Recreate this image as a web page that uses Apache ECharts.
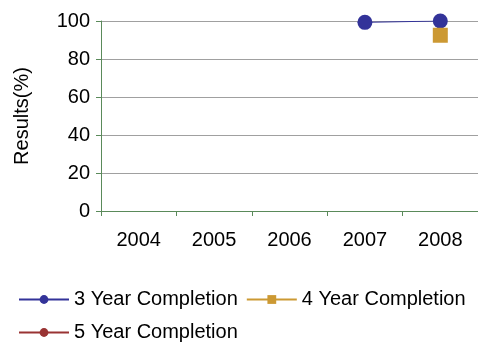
<!DOCTYPE html>
<html>
<head>
<meta charset="utf-8">
<script src="https://cdn.jsdelivr.net/npm/echarts@6/dist/echarts.min.js"></script>
<style>
  html, body { margin: 0; padding: 0; background: #fff; }
  #chart { width: 478px; height: 342px; }
</style>
</head>
<body>
<div id="chart"></div>
<script>
// Completion results by cohort length, percent
const years = ['2004', '2005', '2006', '2007', '2008'];
const threeYear = [null, null, null, 99.3, 100];
const fourYear = [null, null, null, null, 92.5];
const fiveYear = [null, null, null, null, null];
const yTicks = [0, 20, 40, 60, 80, 100];

const FONT = 'Liberation Sans, Arial, sans-serif';
const AXIS_GREEN = '#5a8a5a';

const chart = echarts.init(document.getElementById('chart'), null, { renderer: 'canvas' });

function lineSeries(name, data, color, symbol) {
  return {
    name: name,
    type: 'line',
    data: data,
    symbol: symbol,
    symbolSize: 15,
    showSymbol: true,
    connectNulls: false,
    itemStyle: { color: color },
    lineStyle: { color: color, width: 1 },
    emphasis: { disabled: true },
    animation: false
  };
}

chart.setOption({
  animation: false,
  grid: { left: 101, top: 21, right: -4, bottom: 131, containLabel: false },
  xAxis: {
    type: 'category',
    data: years,
    boundaryGap: true,
    axisLine: { lineStyle: { color: AXIS_GREEN, width: 1 } },
    axisTick: { show: true, length: 5, lineStyle: { color: AXIS_GREEN } },
    axisLabel: { color: '#000', fontFamily: FONT, fontSize: 20, margin: 19 },
    splitLine: { show: false }
  },
  yAxis: {
    type: 'value',
    min: yTicks[0],
    max: yTicks[yTicks.length - 1],
    interval: 20,
    name: 'Results(%)',
    nameLocation: 'middle',
    nameRotate: 90,
    nameGap: 69,
    nameTextStyle: { color: '#000', fontFamily: FONT, fontSize: 20 },
    axisLine: { show: true, lineStyle: { color: AXIS_GREEN, width: 1 } },
    axisTick: { show: true, length: 5, lineStyle: { color: AXIS_GREEN } },
    axisLabel: { color: '#000', fontFamily: FONT, fontSize: 20, margin: 11 },
    splitLine: { show: true, lineStyle: { color: '#a0a0a0', width: 1 } }
  },
  legend: {
    left: 18,
    right: 0,
    top: 287,
    padding: 0,
    orient: 'horizontal',
    itemWidth: 50,
    itemHeight: 11,
    itemGap: 8,
    textStyle: { color: '#000', fontFamily: FONT, fontSize: 20, lineHeight: 25 },
    data: ['3 Year Completion', '4 Year Completion', '5 Year Completion']
  },
  series: [
    lineSeries('3 Year Completion', threeYear, '#333399', 'circle'),
    lineSeries('4 Year Completion', fourYear, '#cc9933', 'rect'),
    lineSeries('5 Year Completion', fiveYear, '#993333', 'circle')
  ]
});
</script>
</body>
</html>
